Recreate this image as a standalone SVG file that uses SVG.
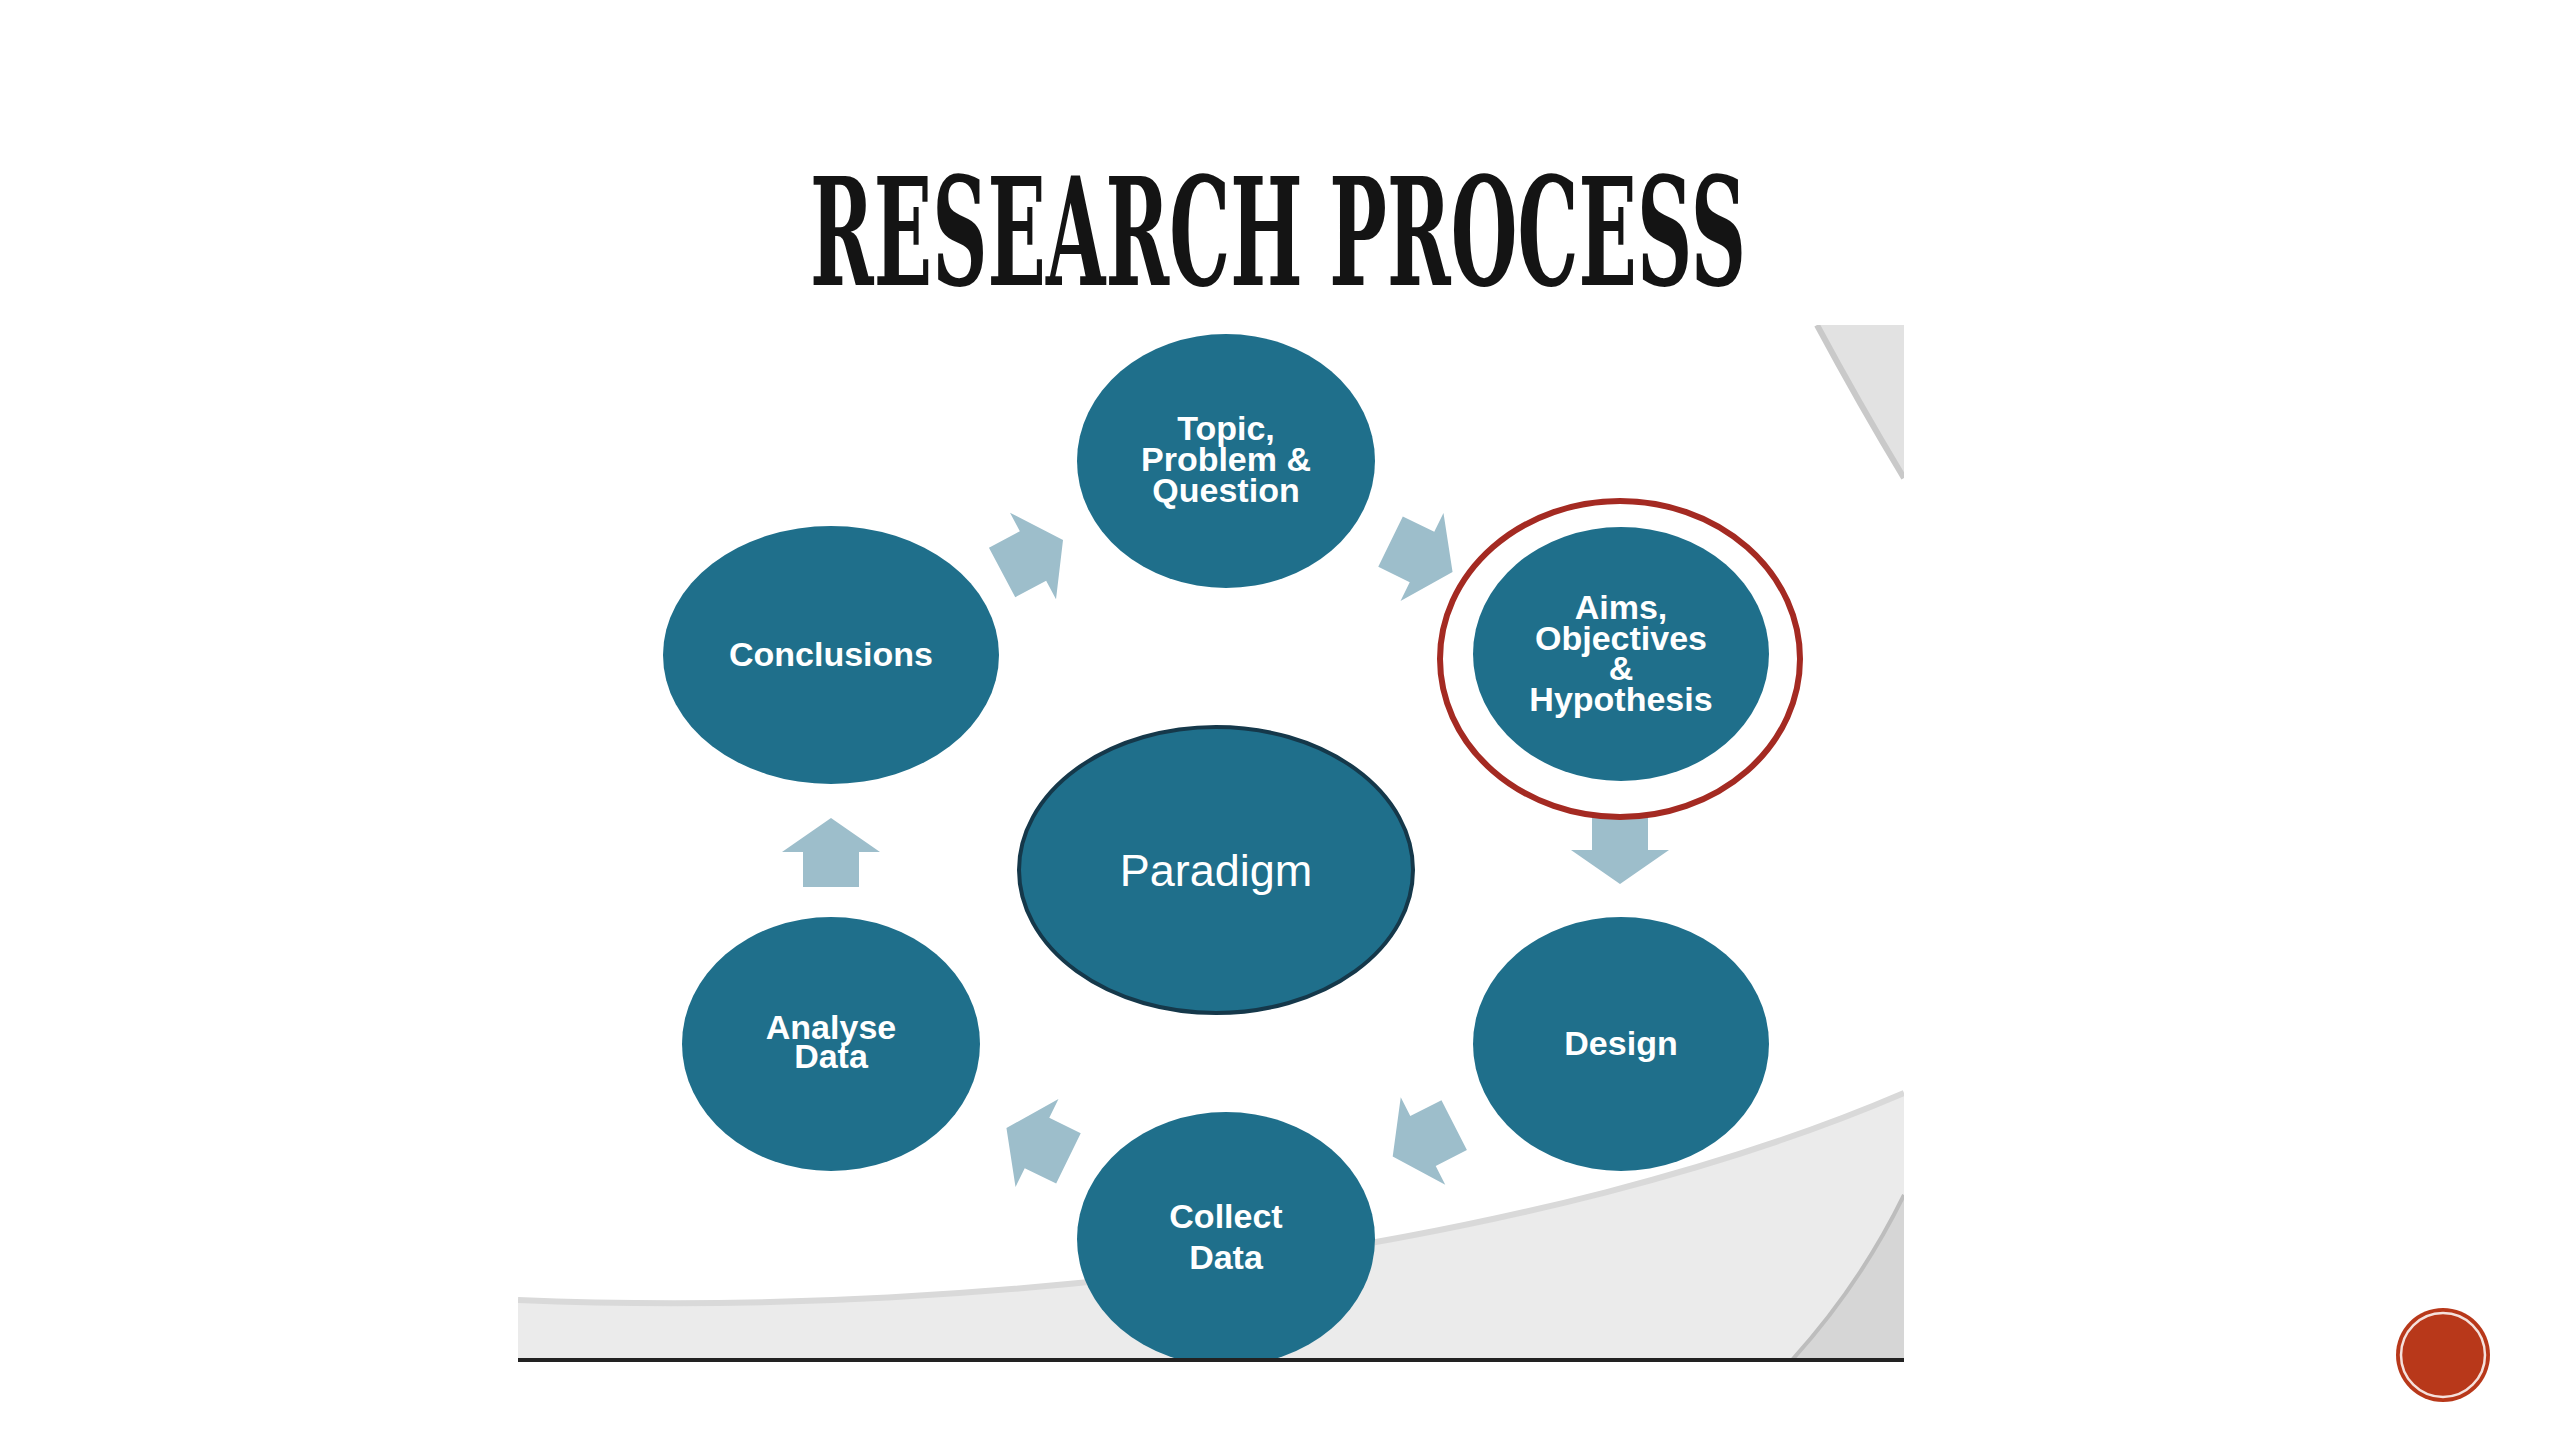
<svg xmlns="http://www.w3.org/2000/svg" xmlns:xlink="http://www.w3.org/1999/xlink" width="2560" height="1440" viewBox="0 0 2560 1440">
  <defs>
    <style>
      .node { fill: #1f6f8b; }
      .lbl { font-family: "Liberation Sans", Arial, sans-serif; font-weight: bold; font-size: 34px; fill: #ffffff; text-anchor: middle; }
      .lblp { font-family: "Liberation Sans", Arial, sans-serif; font-size: 45px; fill: #ffffff; text-anchor: middle; }
      .arrow { fill: #9dbecb; }
    </style>
    <path id="blk" d="M0,-34 L49,0 L28,0 L28,35 L-28,35 L-28,0 L-49,0 Z"/>
    <clipPath id="panel">
      <rect x="518" y="325" width="1386" height="1035"/>
    </clipPath>
  </defs>

  <rect x="0" y="0" width="2560" height="1440" fill="#ffffff"/>

  <!-- title -->
  <text x="810" y="285" textLength="936" lengthAdjust="spacingAndGlyphs" font-family="DejaVu Serif, 'Liberation Serif', serif" font-weight="bold" font-size="150" fill="#141414">RESEARCH PROCESS</text>

  <!-- background panel -->
  <g id="panel-bg" clip-path="url(#panel)">
    <rect x="518" y="325" width="1386" height="1035" fill="#ffffff"/>
    <path d="M1817,325 Q1860,405 1904,478 L1904,325 Z" fill="#e2e2e2"/>
    <path d="M1817,325 Q1860,405 1904,478" fill="none" stroke="#c9c9c9" stroke-width="6"/>
    <path d="M518,1300 C1000,1320 1550,1245 1904,1093 L1904,1360 L518,1360 Z" fill="#ebebeb"/>
    <path d="M518,1300 C1000,1320 1550,1245 1904,1093" fill="none" stroke="#d9d9d9" stroke-width="6"/>
    <path d="M1792,1360 Q1860,1285 1904,1195 L1904,1360 Z" fill="#d6d6d6"/>
    <path d="M1792,1360 Q1860,1285 1904,1195" fill="none" stroke="#bdbdbd" stroke-width="4"/>
  </g>

  <!-- connectors -->
  <g id="connectors" class="arrow">
    <use xlink:href="#blk" href="#blk" transform="translate(1033,556) rotate(62)"/>
    <use xlink:href="#blk" href="#blk" transform="translate(1422,557) rotate(116)"/>
    <use xlink:href="#blk" href="#blk" transform="translate(1620,850) rotate(180)"/>
    <use xlink:href="#blk" href="#blk" transform="translate(1423,1141) rotate(243)"/>
    <use xlink:href="#blk" href="#blk" transform="translate(1037,1143) rotate(296)"/>
    <use xlink:href="#blk" href="#blk" transform="translate(831,852)"/>
  </g>

  <g id="node-topic">
    <ellipse class="node" cx="1226" cy="461" rx="149" ry="127"/>
    <text class="lbl"><tspan x="1226" y="440">Topic,</tspan><tspan x="1226" y="471">Problem &amp;</tspan><tspan x="1226" y="502">Question</tspan></text>
  </g>

  <g id="node-aims">
    <ellipse class="node" cx="1621" cy="654" rx="148" ry="127"/>
    <ellipse cx="1620" cy="659" rx="180" ry="158" fill="none" stroke="#a42a22" stroke-width="6"/>
    <text class="lbl"><tspan x="1621" y="619">Aims,</tspan><tspan x="1621" y="650">Objectives</tspan><tspan x="1621" y="680">&amp;</tspan><tspan x="1621" y="711">Hypothesis</tspan></text>
  </g>

  <g id="node-conclusions">
    <ellipse class="node" cx="831" cy="655" rx="168" ry="129"/>
    <text class="lbl" x="831" y="666">Conclusions</text>
  </g>

  <g id="node-paradigm">
    <ellipse class="node" cx="1216" cy="870" rx="197" ry="143" stroke="#15384a" stroke-width="4"/>
    <text class="lblp" x="1216" y="886">Paradigm</text>
  </g>

  <g id="node-design">
    <ellipse class="node" cx="1621" cy="1044" rx="148" ry="127"/>
    <text class="lbl" x="1621" y="1055">Design</text>
  </g>

  <g id="node-analyse">
    <ellipse class="node" cx="831" cy="1044" rx="149" ry="127"/>
    <text class="lbl"><tspan x="831" y="1039">Analyse</tspan><tspan x="831" y="1068">Data</tspan></text>
  </g>

  <g id="node-collect">
    <ellipse class="node" cx="1226" cy="1239" rx="149" ry="127" clip-path="url(#panel)"/>
    <text class="lbl"><tspan x="1226" y="1228">Collect</tspan><tspan x="1226" y="1269">Data</tspan></text>
  </g>

  <line x1="518" y1="1360" x2="1904" y2="1360" stroke="#222222" stroke-width="4"/>

  <!-- slide button -->
  <g id="slide-button">
    <circle cx="2443" cy="1355" r="47" fill="#b8381a"/>
    <circle cx="2443" cy="1355" r="42" fill="none" stroke="#ffffff" stroke-width="2.5" opacity="0.85"/>
  </g>
</svg>
